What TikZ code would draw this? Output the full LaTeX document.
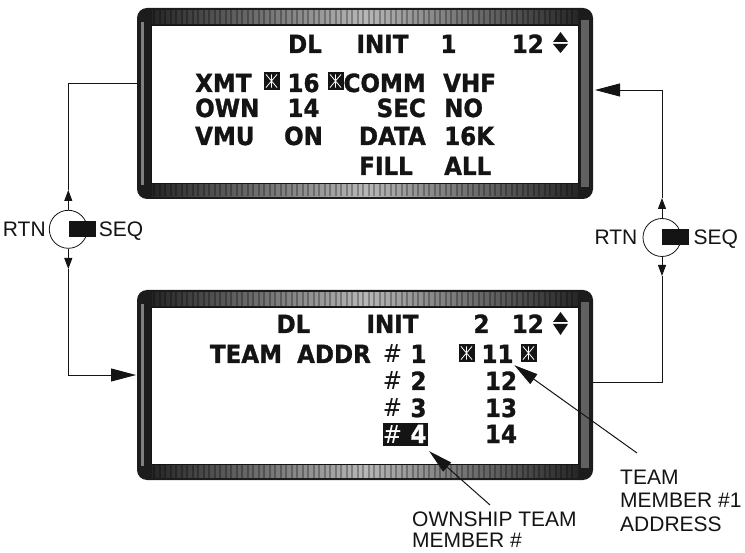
\documentclass[tikz,border=0pt]{standalone}
\usepackage{fontspec}
\usepackage{tikz}
\usetikzlibrary{arrows.meta,positioning,calc}
\newfontfamily\lcdfont{DejaVu Sans}[FakeStretch=0.92,BoldFeatures={FakeBold=1.2}]
\newfontfamily\lblfont{Liberation Sans}
\definecolor{ink}{HTML}{141414}
\definecolor{casegray}{HTML}{1C1C1C}
\tikzset{
  casefill/.style={fill=casegray,rounded corners=10pt},
  bezel/.style={left color=black!85,right color=black!85,middle color=black!28},
  stripe/.style={draw=black,line width=2pt,opacity=0.28},
  glass/.style={draw=ink,fill=white,line width=0.8pt},
  lcd/.style={font=\lcdfont\bfseries\fontsize{25}{25}\selectfont,inner sep=0pt,
              anchor=base,text=ink},
  lcdhash/.style={font=\lcdfont\fontsize{25}{25}\selectfont,inner sep=0pt,
                  anchor=base,text=ink},
  starbox/.style={fill=ink,minimum width=16pt,minimum height=18pt,inner sep=0pt,
    path picture={
      \draw[white,line width=0.8pt]
        ([shift={(2.4pt,2.4pt)}]path picture bounding box.south west) --
        ([shift={(-2.4pt,-2.4pt)}]path picture bounding box.north east)
        ([shift={(2.4pt,-2.4pt)}]path picture bounding box.north west) --
        ([shift={(-2.4pt,2.4pt)}]path picture bounding box.south east)
        ([yshift=2.4pt]path picture bounding box.south) --
        ([yshift=-2.4pt]path picture bounding box.north);}},
  knob/.style={circle,draw=ink,line width=0.8pt,fill=white,minimum size=38pt,
               inner sep=0pt},
  slider/.style={fill=ink,minimum width=27pt,minimum height=16pt,inner sep=0pt,
                 anchor=west},
  lbl/.style={font=\lblfont\fontsize{21}{23.3}\selectfont,inner sep=0pt,text=ink},
  knoblbl/.style={lbl,text depth=0pt},
  link/.style={line width=0.9pt,draw=ink},
  bigarr/.style={link,-{Triangle[length=25pt,width=13pt]}},
  smallarr/.style={link,-{Triangle[length=11pt,width=8pt]}},
  ptrarr/.style={line width=1pt,draw=ink,-{Triangle[length=24pt,width=12pt]}}
}

\begin{document}
\begin{tikzpicture}[x=1pt,y=-1pt]
  \path[use as bounding box] (0,0) rectangle (745,553);
  % the two display pages
  \foreach \yt/\yb in {8/199,290/480}{
    \fill[casefill] (137,\yt) rectangle (593,\yb);
    \shade[bezel] (152,\yt+2.5) rectangle (578,\yt+16);
    \shade[bezel] (152,\yb-15) rectangle (578,\yb-2.5);
    \foreach \x in {154,159.5,...,576}
      \draw[stripe] (\x,\yt+2.5) -- (\x,\yt+16) (\x,\yb-15) -- (\x,\yb-2.5);
    \draw[line width=3pt,black!50] (142.5,\yt+14) -- (142.5,\yb-14);
    \fill[black!62] (581,\yt+12) rectangle (589,\yb-12);
    \draw[glass] (151,\yt+17) rectangle (578,\yb-16);
  }
  \coordinate (pgOneW) at (137,83);
  \coordinate (pgOneE) at (595,90);
  \coordinate (pgTwoW) at (136,375);
  \coordinate (pgTwoE) at (593,382);

  % page 1
  \node[lcd] (oneDL) at (305,53) {DL};
  \node[lcd] (oneInit) at (382.5,53) {INIT};
  \node[lcd] (onePg) at (448.5,53) {1};
  \node[lcd,anchor=base east] (oneTot) at (544,53) {12};
  \fill[ink] (553,42) -- (568,42) -- (560.5,32) -- cycle;
  \fill[ink] (553,44) -- (568,44) -- (560.5,53) -- cycle;
  \node[lcd,anchor=base west] (xmt) at (195,92) {XMT};
  \node[starbox] (sbXL) at (271.5,81) {};
  \node[lcd] (xmtVal) at (303.5,92) {16};
  \node[starbox] (sbXR) at (335.5,81) {};
  \node[lcd,anchor=base east] (comm) at (426,92) {COMM};
  \node[lcd,anchor=base west] (commVal) at (443,92) {VHF};
  \node[lcd,anchor=base west] (own) at (195,117) {OWN};
  \node[lcd] (ownVal) at (303.5,117) {14};
  \node[lcd,anchor=base east] (sec) at (426,117) {SEC};
  \node[lcd,anchor=base west] (secVal) at (444,117) {NO};
  \node[lcd,anchor=base west] (vmu) at (195,145) {VMU};
  \node[lcd] (vmuVal) at (303.5,145) {ON};
  \node[lcd,anchor=base east] (data) at (426,145) {DATA};
  \node[lcd,anchor=base west] (dataVal) at (444,145) {16K};
  \node[lcd] (fill) at (386,175) {FILL};
  \node[lcd,anchor=base west] (fillVal) at (444,175) {ALL};

  % page 2
  \node[lcd] (twoDL) at (293.5,333) {DL};
  \node[lcd] (twoInit) at (392.5,333) {INIT};
  \node[lcd] (twoPg) at (481.5,333) {2};
  \node[lcd,anchor=base east] (twoTot) at (544,333) {12};
  \fill[ink] (553,322) -- (568,322) -- (560.5,312) -- cycle;
  \fill[ink] (553,324) -- (568,324) -- (560.5,335) -- cycle;
  \node[lcd] (team) at (246,363) {TEAM};
  \node[lcd] (addr) at (334,363) {ADDR};
  \node[fill=ink,minimum width=45pt,minimum height=23pt,inner sep=0pt]
    (ownMark) at (405.5,434.5) {};
  \foreach \r/\yb/\c in {1/363/ink,2/390/ink,3/417/ink,4/443/white}{
    \node[lcdhash,text=\c] (hash\r) at (392.5,\yb) {\#};
    \node[lcd,text=\c] (mem\r) at (418.5,\yb) {\r};
  }
  \node[starbox] (sb11L) at (466.5,353) {};
  \node[lcd] (addr1) at (497.5,363) {11};
  \node[starbox] (sb11R) at (528.5,353) {};
  \node[lcd] (addr2) at (501,390) {12};
  \node[lcd] (addr3) at (501,417) {13};
  \node[lcd] (addr4) at (501,443) {14};

  % left RTN/SEQ switch
  \node[knob] (knobL) at (68.3,229.3) {};
  \node[slider] (slideL) at (knobL.center) {};
  \node[knoblbl,left=3pt of knobL] (rtnL) {RTN};
  \node[knoblbl,right=3pt of slideL] (seqL) {SEQ};
  \coordinate (upL) at (68.3,190);
  \coordinate (dnL) at (68.3,269);
  \draw[smallarr] (knobL.north) -- (upL);
  \draw[link] (upL) |- (pgOneW);
  \draw[smallarr] (knobL.south) -- (dnL);
  \draw[bigarr] (dnL) |- (pgTwoW);

  % right RTN/SEQ switch
  \node[knob] (knobR) at (662,237.5) {};
  \node[slider] (slideR) at (knobR.center) {};
  \node[knoblbl,left=5pt of knobR] (rtnR) {RTN};
  \node[knoblbl,right=4pt of slideR] (seqR) {SEQ};
  \coordinate (upR) at (662,198);
  \coordinate (dnR) at (662,276);
  \draw[smallarr] (knobR.north) -- (upR);
  \draw[bigarr] (upR) |- (pgOneE);
  \draw[smallarr] (knobR.south) -- (dnR);
  \draw[link] (dnR) |- (pgTwoE);

  % call-outs
  \node[lbl,anchor=north west,align=left] (addrLbl) at (620,470)
    {TEAM\\MEMBER \#1\\ADDRESS};
  \node[lbl,anchor=north west,align=left,
        font=\lblfont\fontsize{21}{21}\selectfont] (ownLbl) at (412,512)
    {OWNSHIP TEAM\\MEMBER \#};
  \coordinate (addrTail) at (637,453);
  \coordinate (ownTail) at (490,505);
  \draw[ptrarr] (addrTail) -- ([shift={(-6pt,-3pt)}]sb11R.south west);
  \draw[ptrarr] (ownTail) -- ([shift={(1pt,-5pt)}]ownMark.south east);
\end{tikzpicture}
\end{document}
